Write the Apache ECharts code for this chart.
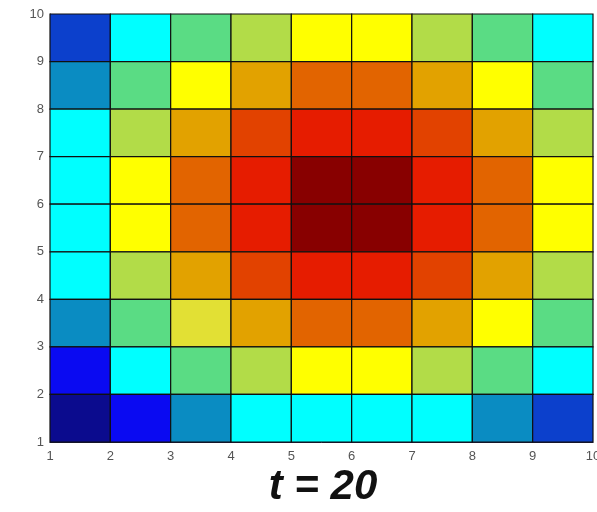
<!DOCTYPE html>
<html>
<head>
<meta charset="utf-8">
<style>
  html, body { margin: 0; padding: 0; background: #fff; }
  #chart { width: 597px; height: 512px; }
</style>
<script src="https://cdn.jsdelivr.net/npm/echarts@6/dist/echarts.min.js"></script>
</head>
<body>
<div id="chart"></div>
<script>
// Heat levels on a 9x9 plate at time step t = 20 (rows listed top to bottom, y = 9..1)
const heatRows = [
  [2, 4, 5, 6, 8, 8, 6, 5, 4],
  [3, 5, 8, 9, 10, 10, 9, 8, 5],
  [4, 6, 9, 11, 12, 12, 11, 9, 6],
  [4, 8, 10, 12, 13, 13, 12, 10, 8],
  [4, 8, 10, 12, 13, 13, 12, 10, 8],
  [4, 6, 9, 11, 12, 12, 11, 9, 6],
  [3, 5, 7, 9, 10, 10, 9, 8, 5],
  [1, 4, 5, 6, 8, 8, 6, 5, 4],
  [0, 1, 3, 4, 4, 4, 4, 3, 2]
];
// Colour for each heat level, cold to hot (jet-like)
const levelColors = [
  '#0b0b8e', '#0a0af2', '#0c40cc', '#0a8cc2', '#00ffff', '#5adc84', '#b2dc48',
  '#e2e034', '#ffff00', '#e2a200', '#e26400', '#e24200', '#e61c00', '#880000'
];
const tickValues = [1, 2, 3, 4, 5, 6, 7, 8, 9, 10];
const titleText = 't = 20';

// [x0, y0, level] for each cell, cell spans [x0, x0+1] x [y0, y0+1]
const cells = [];
heatRows.forEach((row, i) => {
  const y0 = tickValues[heatRows.length - 1 - i];
  row.forEach((v, j) => cells.push([tickValues[j], y0, v]));
});

const chart = echarts.init(document.getElementById('chart'));
const axisCommon = {
  type: 'value',
  min: tickValues[0],
  max: tickValues[tickValues.length - 1],
  interval: 1,
  splitLine: { show: false },
  axisTick: { show: false },
  axisLine: { show: true, lineStyle: { color: '#1a1a40', width: 1 } },
  axisLabel: { color: '#555', fontFamily: 'Liberation Sans, Arial', fontSize: 13 }
};
chart.setOption({
  animation: false,
  backgroundColor: '#ffffff',
  title: {
    text: titleText,
    left: 318,
    top: 461,
    textAlign: 'center',
    textStyle: {
      fontFamily: 'Liberation Sans, Arial',
      fontStyle: 'italic',
      fontWeight: 'bold',
      fontSize: 42,
      color: '#111'
    }
  },
  grid: { left: 50, top: 14, width: 543, height: 428, outerBoundsMode: 'none', containLabel: false },
  xAxis: Object.assign({}, axisCommon, {
    axisLabel: Object.assign({}, axisCommon.axisLabel, { margin: 8 })
  }),
  yAxis: Object.assign({}, axisCommon, {
    axisLabel: Object.assign({}, axisCommon.axisLabel, { margin: 6 })
  }),
  visualMap: {
    show: false,
    type: 'continuous',
    min: 0,
    max: levelColors.length - 1,
    dimension: 2,
    inRange: { color: levelColors }
  },
  series: [{
    type: 'custom',
    data: cells,
    encode: { x: 0, y: 1 },
    renderItem: function (params, api) {
      const x0 = api.value(0), y0 = api.value(1);
      const p1 = api.coord([x0, y0 + 1]);
      const p2 = api.coord([x0 + 1, y0]);
      return {
        type: 'rect',
        shape: { x: p1[0], y: p1[1], width: p2[0] - p1[0], height: p2[1] - p1[1] },
        style: { fill: api.visual('color'), stroke: '#101010', lineWidth: 1.2 }
      };
    }
  }]
});
</script>
</body>
</html>
